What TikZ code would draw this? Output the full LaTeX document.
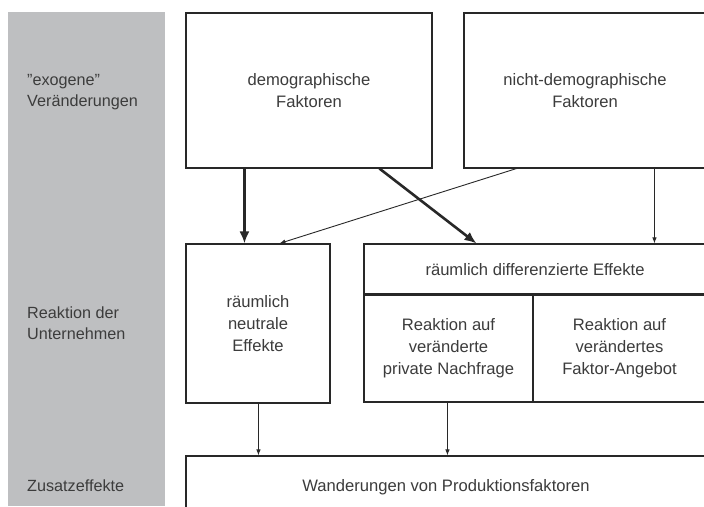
\documentclass[tikz,border=0pt]{standalone}
\usepackage{fontspec}
\setmainfont{Liberation Sans}
\usetikzlibrary{arrows.meta}
\definecolor{bandgray}{RGB}{190,191,193}
\definecolor{txtgray}{RGB}{60,60,60}
\definecolor{linegray}{RGB}{40,40,40}
\begin{document}
\begin{tikzpicture}[x=1pt,y=-1pt,
  box/.style={draw=linegray,line width=1.1pt,rectangle,inner sep=0pt,align=center,
    text=txtgray,font=\fontsize{16.6}{22}\selectfont},
  lab/.style={anchor=west,align=left,text=txtgray,inner sep=0pt,
    font=\fontsize{16.2}{20.5}\selectfont},
  thickarr/.style={line width=2.6pt,draw=linegray,-{Latex[length=12pt,width=10pt]}},
  thinarr/.style={line width=0.9pt,draw=linegray,-{Latex[length=6pt,width=4.5pt]}}]
\useasboundingbox (0,0) rectangle (704,506);
\clip (0,0) rectangle (704,506);
\fill[white] (0,0) rectangle (704,506);
\fill[bandgray] (8,12) rectangle (165,506);
% left labels
\node[lab] (l1) at (27,92) {"exogene"\\Veränderungen};
\node[lab] (l2) at (27,323) {Reaktion der\\Unternehmen};
\node[lab] (l3) at (27,486) {Zusatzeffekte};
% boxes
\node[box,minimum width=246pt,minimum height=155pt] (demo) at (309,90.5) {demographische\\Faktoren};
\node[box,minimum width=242pt,minimum height=155pt] (nicht) at (585,90.5) {nicht-demographische\\Faktoren};
\node[box,minimum width=144pt,minimum height=159pt] (neutral) at (258,323.5) {räumlich\\neutrale\\Effekte};
\node[box,minimum width=342pt,minimum height=51pt] (difft) at (535,269.5) {räumlich differenzierte Effekte};
\node[box,minimum width=169pt,minimum height=108pt] (diffl) at (448.5,348) {Reaktion auf\\veränderte\\private Nachfrage};
\node[box,minimum width=173pt,minimum height=108pt] (diffr) at (619.5,348) {Reaktion auf\\verändertes\\Faktor-Angebot};
\node[box,minimum width=520pt,minimum height=62pt] (wand) at (446,487) {Wanderungen von Produktionsfaktoren};
% arrows
\draw[thickarr] ([xshift=59pt]demo.south west) -- ([xshift=59pt]neutral.north west);
\draw[thickarr] ([xshift=194pt]demo.south west) -- ([xshift=113pt]difft.north west);
\draw[thinarr] ([xshift=53pt]nicht.south west) -- ([xshift=94pt]neutral.north west);
\draw[thinarr] ([xshift=191pt]nicht.south west) -- ([xshift=291pt]difft.north west);
\draw[thinarr] ([xshift=73pt]neutral.south west) -- ([xshift=73pt]wand.north west);
\draw[thinarr] ([xshift=84pt]diffl.south west) -- ([xshift=262pt]wand.north west);
\end{tikzpicture}
\end{document}
